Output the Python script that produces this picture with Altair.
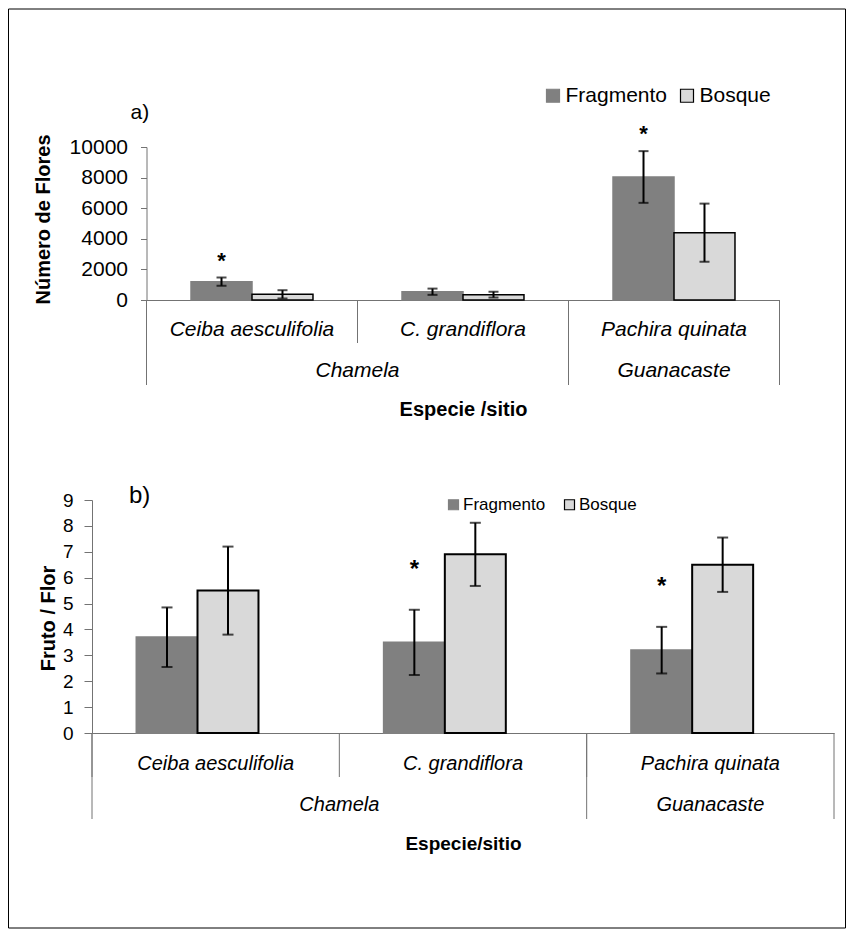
import altair as alt
import pandas as pd

# ---------------- data ----------------
especies = ["Ceiba aesculifolia", "C. grandiflora", "Pachira quinata"]
sitios = ["Chamela", "Chamela", "Guanacaste"]
grupos = ["Fragmento", "Bosque"]

flores_fragmento = [1200, 540, 8040]
flores_fragmento_ee = [270, 205, 1690]
flores_bosque = [370, 350, 4400]
flores_bosque_ee = [270, 190, 1900]
flores_sig = [True, False, True]

fruto_fragmento = [3.7, 3.5, 3.2]
fruto_fragmento_ee = [1.15, 1.26, 0.9]
fruto_bosque = [5.5, 6.9, 6.5]
fruto_bosque_ee = [1.7, 1.22, 1.05]
fruto_sig = [False, True, True]

flores_ticks = [0, 2000, 4000, 6000, 8000, 10000]
fruto_ticks = [0, 1, 2, 3, 4, 5, 6, 7, 8, 9]

FRAG_COLOR = "#808080"
BOSQUE_COLOR = "#d9d9d9"
AXIS_COLOR = "#737373"
FONT = "Liberation Sans"


def build_df(frag, frag_ee, bos, bos_ee, sig):
    rows = []
    for i, sp in enumerate(especies):
        rows.append({"especie": sp, "sitio": sitios[i], "grupo": grupos[0],
                     "valor": frag[i], "ee": frag_ee[i], "sig": sig[i]})
        rows.append({"especie": sp, "sitio": sitios[i], "grupo": grupos[1],
                     "valor": bos[i], "ee": bos_ee[i], "sig": False})
    df = pd.DataFrame(rows)
    df["lo"] = df["valor"] - df["ee"]
    df["hi"] = df["valor"] + df["ee"]
    return df


def make_panel(df, p, frame=False):
    W, H = p["width"], p["height"]
    x_scale = alt.Scale(domain=especies, paddingInner=0, paddingOuter=0)
    x_axis = alt.Axis(
        title=p["xtitle"], labelAngle=0, labelFontStyle="italic",
        labelFontSize=p["label_fs"], labelBaseline="middle", labelPadding=p["sp_y"],
        labelLimit=400, ticks=False, tickSize=0, domainColor=AXIS_COLOR,
        domainWidth=1, labelColor="black", titleColor="black",
        titleFontSize=p["xtitle_fs"], titleFontWeight="bold",
        titleX=W / 2, titleY=p["xtitle_y"], titleAlign="center",
        titleBaseline="middle",
    )

    def X(bp=None):
        if bp is None:
            return alt.X("especie:N", scale=x_scale, axis=x_axis)
        return alt.X("especie:N", scale=x_scale, axis=x_axis, bandPosition=bp)

    y_scale = alt.Scale(domain=p["ydomain"], nice=False)
    y_axis = alt.Axis(
        values=p["yticks"], format="d", title=p["ytitle"], grid=False,
        titleX=p["ytitle_x"], titleY=p["ytitle_y"], titleAngle=-90,
        titleAlign="center", titleBaseline="middle",
        titleFontSize=p["ytitle_fs"], titleFontWeight="bold", titleColor="black",
        labelFontSize=p["tick_fs"], labelPadding=p["ylabel_pad"], labelColor="black",
        tickSize=p["ytick"], tickColor=AXIS_COLOR, domainColor=AXIS_COLOR,
    )

    def Y(field):
        return alt.Y(field, scale=y_scale, axis=y_axis)

    xo = alt.XOffset("grupo:N", scale=alt.Scale(domain=grupos, paddingInner=0,
                                                paddingOuter=p["offset_pad"]))
    leg = alt.Legend(
        orient="none", legendX=p["leg_x"], legendY=p["leg_y"], direction="horizontal",
        symbolType="square", symbolSize=p["leg_sym"], labelFontSize=p["leg_fs"],
        labelOffset=p["leg_off"], columnPadding=p["leg_colpad"], symbolStrokeWidth=1.2,
        labelColor="black", padding=0,
    )
    fill = alt.Fill("grupo:N", title=None, legend=leg,
                    scale=alt.Scale(domain=grupos, range=[FRAG_COLOR, BOSQUE_COLOR]))
    stroke = alt.Stroke("grupo:N", title=None, legend=leg,
                        scale=alt.Scale(domain=grupos, range=[FRAG_COLOR, "black"]))

    base = alt.Chart(df)
    bars = base.mark_bar(strokeWidth=p["bos_stroke"]).encode(
        x=X(), xOffset=xo, y=Y("valor:Q"), fill=fill, stroke=stroke)
    err = base.mark_rule(color="black", strokeWidth=2).encode(
        x=X(), xOffset=xo, y=Y("lo:Q"), y2="hi:Q")
    cap_lo = base.mark_tick(color="black", thickness=2, size=p["cap"]).encode(
        x=X(), xOffset=xo, y=Y("lo:Q"))
    cap_hi = base.mark_tick(color="black", thickness=2, size=p["cap"]).encode(
        x=X(), xOffset=xo, y=Y("hi:Q"))
    ast = base.transform_filter("datum.sig").mark_text(
        text="*", fontSize=p["ast_fs"], dy=p["ast_dy"], color="black", font=FONT,
        fontWeight="bold").encode(
        x=X(), xOffset=xo, y=Y("hi:Q"))

    sp_df = pd.DataFrame({"especie": especies})
    seps = alt.Chart(sp_df).mark_rule(color=AXIS_COLOR, strokeWidth=1).encode(
        x=X(0), y=alt.value(H), y2=alt.value(H + p["sep_len"]))

    site_first = []
    for i, s in enumerate(sitios):
        if i == 0 or sitios[i - 1] != s:
            site_first.append(especies[i])
    site_lines = alt.Chart(pd.DataFrame({"especie": site_first})).mark_rule(
        color=AXIS_COLOR, strokeWidth=1).encode(
        x=X(0), y=alt.value(H), y2=alt.value(H + p["site_len"]))
    end_line = alt.Chart(pd.DataFrame({"especie": [especies[-1]]})).mark_rule(
        color=AXIS_COLOR, strokeWidth=1).encode(
        x=X(1), y=alt.value(H), y2=alt.value(H + p["site_len"]))

    site_layers = []
    for s in dict.fromkeys(sitios):
        members = [e for e, ss in zip(especies, sitios) if ss == s]
        sdf = pd.DataFrame({"especie": [members[0]], "sitio": [s]})
        site_layers.append(
            alt.Chart(sdf).mark_text(fontSize=p["label_fs"], fontStyle="italic",
                                     baseline="middle", color="black", font=FONT).encode(
                x=X(len(members) / 2), y=alt.value(H + p["site_y"]), text="sitio:N"))

    lab = alt.Chart(pd.DataFrame({"t": [p["panel_label"]]})).mark_text(
        fontSize=p["pl_fs"], align="left", baseline="middle", color="black", font=FONT).encode(
        x=alt.value(p["pl_x"]), y=alt.value(p["pl_y"]), text="t:N")

    layers = [bars, err, cap_lo, cap_hi, ast, seps, site_lines, end_line] + site_layers + [lab]
    if frame:
        fr = alt.Chart(pd.DataFrame({"f": [1]})).mark_rect(
            filled=False, color="black", strokeWidth=1).encode(
            x=alt.value(-138), x2=alt.value(699), y=alt.value(-138), y2=alt.value(781))
        layers.append(fr)
    return alt.layer(*layers).properties(width=W, height=H)


pa = dict(width=633, height=153, ydomain=[0, 10000], yticks=flores_ticks,
          ytitle="Número de Flores", xtitle="Especie /sitio",
          label_fs=21, xtitle_fs=20, ytitle_fs=20, tick_fs=21,
          sp_y=29, site_y=71, xtitle_y=109, sep_len=43, site_len=85,
          ytitle_x=-103, ytitle_y=72, ytick=6, ylabel_pad=13,
          leg_x=396, leg_y=-62, leg_fs=21, leg_sym=169, leg_off=2, leg_colpad=9,
          offset_pad=0.73, cap=10, bos_stroke=1.5, ast_fs=22, ast_dy=-17,
          panel_label="a)", pl_x=-16, pl_y=-34, pl_fs=21)

pb = dict(width=742, height=233, ydomain=[0, 9], yticks=fruto_ticks,
          ytitle="Fruto / Flor", xtitle="Especie/sitio",
          label_fs=20, xtitle_fs=19, ytitle_fs=20, tick_fs=19,
          sp_y=30, site_y=72, xtitle_y=110, sep_len=44, site_len=86,
          ytitle_x=-44, ytitle_y=118, ytick=8, ylabel_pad=11,
          leg_x=353, leg_y=-4, leg_fs=17, leg_sym=100, leg_off=1, leg_colpad=15,
          offset_pad=0.715, cap=11, bos_stroke=2, ast_fs=24, ast_dy=-40,
          panel_label="b)", pl_x=37, pl_y=-4, pl_fs=24)

df_a = build_df(flores_fragmento, flores_fragmento_ee, flores_bosque, flores_bosque_ee, flores_sig)
df_b = build_df(fruto_fragmento, fruto_fragmento_ee, fruto_bosque, fruto_bosque_ee, fruto_sig)

chart_a = make_panel(df_a, pa, frame=True)
chart_b = make_panel(df_b, pb)

chart = alt.vconcat(chart_a, chart_b, spacing=200, center=True, bounds="flush").resolve_scale(
    fill="independent", stroke="independent", x="independent", y="independent"
).resolve_legend(fill="independent", stroke="independent").properties(
    padding=0
).configure(font=FONT).configure_view(strokeWidth=0)

chart.save("out.html", embed_options={"renderer": "svg", "actions": False})
